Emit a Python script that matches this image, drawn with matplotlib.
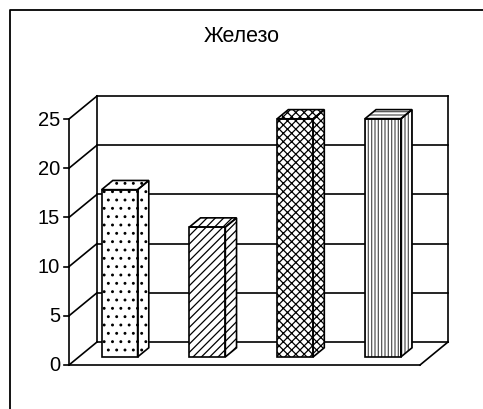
import matplotlib.pyplot as plt
from matplotlib.patches import Polygon
from matplotlib.lines import Line2D

plt.rcParams['font.family'] = ['Liberation Sans', 'DejaVu Sans']
plt.rcParams['hatch.linewidth'] = 0.9

# данные диаграммы
title = 'Железо'
values = [17.0, 13.2, 24.2, 24.2]
hatches = ['..', '////', 'xxxx', '|||||']
hatch_colors = ['black', 'black', 'black', '#555555']
y_ticks = [0, 5, 10, 15, 20, 25]

fig = plt.figure(figsize=(4.83, 4.10), dpi=100)
ax = fig.add_axes([0, 0, 1, 1])

# масштаб: пикселей на категорию и на единицу значения
px_cat = 87.75
px_val = 9.84
x0_px, y0_px = 69, 44
ax.set_xlim(-x0_px / px_cat, (483 - x0_px) / px_cat)
ax.set_ylim(-y0_px / px_val, (410 - y0_px) / px_val)
ax.axis('off')

# смещение глубины (псевдо-3D)
DX = 28 / px_cat
DY = 23 / px_val
ncat = len(values)
ymax = y_ticks[-1]


def proj(x, y, d):
    return x + d * DX, y + d * DY


def seg(p, q, lw=1.2, z=1):
    ax.add_line(Line2D([p[0], q[0]], [p[1], q[1]], color='black', lw=lw, zorder=z,
                       solid_capstyle='projecting'))


# задняя стенка, боковые линии сетки и пол
for v in y_ticks:
    seg(proj(0, v, 0), proj(0, v, 1))
    seg(proj(0, v, 1), proj(ncat, v, 1))
seg(proj(0, 0, 1), proj(0, ymax, 1))
seg(proj(ncat, 0, 1), proj(ncat, ymax, 1))
seg(proj(0, 0, 0), proj(ncat, 0, 0))
seg(proj(ncat, 0, 0), proj(ncat, 0, 1))

# ось значений с делениями
seg(proj(0, 0, 0), proj(0, ymax, 0))
for v in y_ticks:
    seg((-0.06, v), (0, v))
    ax.text(-0.1, v, str(v), ha='right', va='center', fontsize=14.5)


def face(pts, hatch, hcolor):
    ax.add_patch(Polygon(pts, closed=True, facecolor='white', edgecolor=hcolor,
                         hatch=hatch, lw=0, zorder=3))
    ax.add_patch(Polygon(pts, closed=True, fill=False, edgecolor='black',
                         lw=1.2, zorder=4, joinstyle='miter'))


# столбики
d0, d1 = 0.35, 0.75
bw = 0.41
for i, v in enumerate(values):
    xl = i + 0.26
    xr = xl + bw
    h, hc = hatches[i], hatch_colors[i]
    face([proj(xr, 0, d0), proj(xr, 0, d1), proj(xr, v, d1), proj(xr, v, d0)], h, hc)
    face([proj(xl, v, d0), proj(xr, v, d0), proj(xr, v, d1), proj(xl, v, d1)],
         '-----' if i == 3 else h, hc)
    face([proj(xl, 0, d0), proj(xr, 0, d0), proj(xr, v, d0), proj(xl, v, d0)], h, hc)

# заголовок и рамка области диаграммы
fig.text(242 / 483, 1 - 37 / 410, title, ha='center', va='center', fontsize=15.5)
fig.add_artist(Line2D([10 / 483, 10 / 483, 1], [0, 1 - 11 / 410, 1 - 11 / 410],
                      transform=fig.transFigure, color='black', lw=1.3))

fig.savefig('out.png', dpi=100)
